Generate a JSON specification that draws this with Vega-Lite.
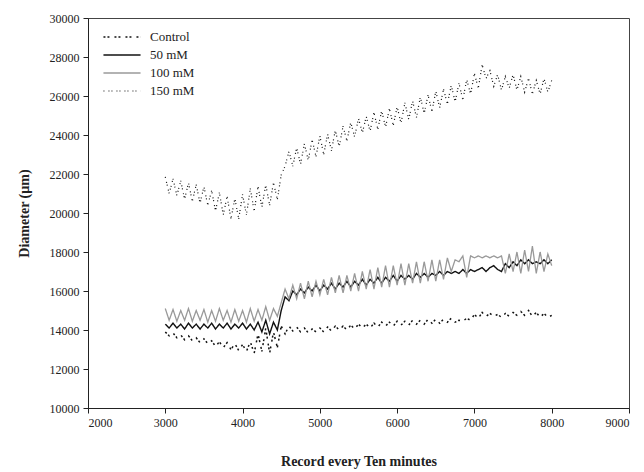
{
  "$schema": "https://vega.github.io/schema/vega-lite/v6.json",
  "autosize": "none",
  "width": 541,
  "height": 390,
  "padding": {"left": 88, "top": 18, "right": 15, "bottom": 64},
  "background": "white",
  "config": {
    "view": {"stroke": "#444", "strokeWidth": 1},
    "axis": {
      "grid": false,
      "labelFont": "Liberation Serif",
      "labelFontSize": 12,
      "labelColor": "#222",
      "titleFont": "Liberation Serif",
      "titleFontSize": 14,
      "titleFontWeight": "bold",
      "titleColor": "#222",
      "tickColor": "#222",
      "domainColor": "#222",
      "tickSize": 5
    },
    "legend": {
      "labelFont": "Liberation Serif",
      "labelFontSize": 13,
      "labelColor": "#222",
      "padding": 0
    }
  },
  "data": {
    "values": [
      {"x":3000,"Control":13900,"50 mM":14300,"100 mM":15100,"150 mM":21850},
      {"x":3050,"Control":13700,"50 mM":14100,"100 mM":14500,"150 mM":21000},
      {"x":3100,"Control":13850,"50 mM":14350,"100 mM":15050,"150 mM":21750},
      {"x":3150,"Control":13600,"50 mM":14100,"100 mM":14450,"150 mM":20900},
      {"x":3200,"Control":13750,"50 mM":14300,"100 mM":15000,"150 mM":21650},
      {"x":3250,"Control":13500,"50 mM":14050,"100 mM":14500,"150 mM":20700},
      {"x":3300,"Control":13700,"50 mM":14350,"100 mM":15100,"150 mM":21550},
      {"x":3350,"Control":13450,"50 mM":14100,"100 mM":14450,"150 mM":20600},
      {"x":3400,"Control":13600,"50 mM":14300,"100 mM":15000,"150 mM":21450},
      {"x":3450,"Control":13350,"50 mM":14050,"100 mM":14500,"150 mM":20500},
      {"x":3500,"Control":13550,"50 mM":14300,"100 mM":15050,"150 mM":21350},
      {"x":3550,"Control":13300,"50 mM":14100,"100 mM":14400,"150 mM":20400},
      {"x":3600,"Control":13450,"50 mM":14350,"100 mM":15000,"150 mM":21150},
      {"x":3650,"Control":13150,"50 mM":14050,"100 mM":14450,"150 mM":20100},
      {"x":3700,"Control":13400,"50 mM":14300,"100 mM":15100,"150 mM":21050},
      {"x":3750,"Control":13100,"50 mM":14100,"100 mM":14500,"150 mM":19900},
      {"x":3800,"Control":13350,"50 mM":14350,"100 mM":15000,"150 mM":20850},
      {"x":3850,"Control":13000,"50 mM":14050,"100 mM":14400,"150 mM":19700},
      {"x":3900,"Control":13300,"50 mM":14300,"100 mM":15050,"150 mM":20750},
      {"x":3950,"Control":12950,"50 mM":14100,"100 mM":14450,"150 mM":19700},
      {"x":4000,"Control":13250,"50 mM":14350,"100 mM":15000,"150 mM":20950},
      {"x":4050,"Control":12900,"50 mM":14050,"100 mM":14400,"150 mM":19900},
      {"x":4100,"Control":13400,"50 mM":14300,"100 mM":15100,"150 mM":21250},
      {"x":4150,"Control":12800,"50 mM":14000,"100 mM":14450,"150 mM":20100},
      {"x":4200,"Control":13800,"50 mM":14400,"100 mM":15050,"150 mM":21350},
      {"x":4250,"Control":12900,"50 mM":13900,"100 mM":14500,"150 mM":20300},
      {"x":4300,"Control":14100,"50 mM":14500,"100 mM":15200,"150 mM":21450},
      {"x":4350,"Control":12800,"50 mM":13800,"100 mM":14500,"150 mM":20400},
      {"x":4400,"Control":13900,"50 mM":14400,"100 mM":15100,"150 mM":21550},
      {"x":4450,"Control":13100,"50 mM":14000,"100 mM":14700,"150 mM":20700},
      {"x":4500,"Control":14200,"50 mM":15000,"100 mM":15400,"150 mM":21950},
      {"x":4550,"Control":13800,"50 mM":15700,"100 mM":16100,"150 mM":22400},
      {"x":4600,"Control":14200,"50 mM":15500,"100 mM":15600,"150 mM":23150},
      {"x":4650,"Control":13950,"50 mM":16000,"100 mM":16300,"150 mM":22400},
      {"x":4700,"Control":14150,"50 mM":15800,"100 mM":15600,"150 mM":23350},
      {"x":4750,"Control":13900,"50 mM":16100,"100 mM":16400,"150 mM":22500},
      {"x":4800,"Control":14100,"50 mM":15900,"100 mM":15600,"150 mM":23550},
      {"x":4850,"Control":13850,"50 mM":16200,"100 mM":16500,"150 mM":22700},
      {"x":4900,"Control":14050,"50 mM":16000,"100 mM":15700,"150 mM":23750},
      {"x":4950,"Control":13900,"50 mM":16300,"100 mM":16500,"150 mM":22900},
      {"x":5000,"Control":14100,"50 mM":16000,"100 mM":15800,"150 mM":23950},
      {"x":5050,"Control":13900,"50 mM":16300,"100 mM":16600,"150 mM":23000},
      {"x":5100,"Control":14150,"50 mM":16100,"100 mM":15800,"150 mM":24050},
      {"x":5150,"Control":13950,"50 mM":16400,"100 mM":16700,"150 mM":23200},
      {"x":5200,"Control":14200,"50 mM":16100,"100 mM":15900,"150 mM":24250},
      {"x":5250,"Control":14000,"50 mM":16400,"100 mM":16800,"150 mM":23400},
      {"x":5300,"Control":14200,"50 mM":16200,"100 mM":15900,"150 mM":24450},
      {"x":5350,"Control":14000,"50 mM":16500,"100 mM":16800,"150 mM":23700},
      {"x":5400,"Control":14250,"50 mM":16200,"100 mM":16000,"150 mM":24650},
      {"x":5450,"Control":14050,"50 mM":16500,"100 mM":16900,"150 mM":23900},
      {"x":5500,"Control":14300,"50 mM":16300,"100 mM":16000,"150 mM":24850},
      {"x":5550,"Control":14100,"50 mM":16600,"100 mM":17000,"150 mM":24100},
      {"x":5600,"Control":14300,"50 mM":16300,"100 mM":16100,"150 mM":24950},
      {"x":5650,"Control":14100,"50 mM":16600,"100 mM":17100,"150 mM":24200},
      {"x":5700,"Control":14350,"50 mM":16400,"100 mM":16100,"150 mM":25150},
      {"x":5750,"Control":14150,"50 mM":16700,"100 mM":17200,"150 mM":24300},
      {"x":5800,"Control":14400,"50 mM":16400,"100 mM":16200,"150 mM":25250},
      {"x":5850,"Control":14200,"50 mM":16700,"100 mM":17300,"150 mM":24400},
      {"x":5900,"Control":14400,"50 mM":16500,"100 mM":16200,"150 mM":25350},
      {"x":5950,"Control":14200,"50 mM":16800,"100 mM":17300,"150 mM":24500},
      {"x":6000,"Control":14450,"50 mM":16500,"100 mM":16300,"150 mM":25450},
      {"x":6050,"Control":14250,"50 mM":16800,"100 mM":17400,"150 mM":24600},
      {"x":6100,"Control":14450,"50 mM":16600,"100 mM":16300,"150 mM":25650},
      {"x":6150,"Control":14250,"50 mM":16800,"100 mM":17400,"150 mM":24800},
      {"x":6200,"Control":14500,"50 mM":16600,"100 mM":16400,"150 mM":25750},
      {"x":6250,"Control":14300,"50 mM":16900,"100 mM":17500,"150 mM":24900},
      {"x":6300,"Control":14500,"50 mM":16700,"100 mM":16400,"150 mM":25950},
      {"x":6350,"Control":14300,"50 mM":16900,"100 mM":17500,"150 mM":25100},
      {"x":6400,"Control":14550,"50 mM":16700,"100 mM":16500,"150 mM":26050},
      {"x":6450,"Control":14350,"50 mM":16900,"100 mM":17600,"150 mM":25200},
      {"x":6500,"Control":14550,"50 mM":16800,"100 mM":16500,"150 mM":26250},
      {"x":6550,"Control":14350,"50 mM":17000,"100 mM":17600,"150 mM":25400},
      {"x":6600,"Control":14550,"50 mM":16800,"100 mM":16600,"150 mM":26350},
      {"x":6650,"Control":14400,"50 mM":17000,"100 mM":17700,"150 mM":25600},
      {"x":6700,"Control":14600,"50 mM":16900,"100 mM":17000,"150 mM":26550},
      {"x":6750,"Control":14400,"50 mM":17000,"100 mM":17600,"150 mM":25700},
      {"x":6800,"Control":14500,"50 mM":16900,"100 mM":17500,"150 mM":26650},
      {"x":6850,"Control":14450,"50 mM":17100,"100 mM":17800,"150 mM":25800},
      {"x":6900,"Control":14600,"50 mM":16900,"100 mM":16700,"150 mM":26850},
      {"x":6950,"Control":14500,"50 mM":17100,"100 mM":17800,"150 mM":26100},
      {"x":7000,"Control":14800,"50 mM":17000,"100 mM":17700,"150 mM":27150},
      {"x":7050,"Control":14600,"50 mM":17100,"100 mM":17800,"150 mM":26400},
      {"x":7100,"Control":14900,"50 mM":17200,"100 mM":17700,"150 mM":27600},
      {"x":7150,"Control":14700,"50 mM":17000,"100 mM":17800,"150 mM":26900},
      {"x":7200,"Control":14850,"50 mM":17200,"100 mM":17700,"150 mM":27300},
      {"x":7250,"Control":14700,"50 mM":17300,"100 mM":17800,"150 mM":26500},
      {"x":7300,"Control":14800,"50 mM":17100,"100 mM":17700,"150 mM":27100},
      {"x":7350,"Control":14650,"50 mM":17000,"100 mM":17800,"150 mM":26300},
      {"x":7400,"Control":14850,"50 mM":17400,"100 mM":16900,"150 mM":27000},
      {"x":7450,"Control":14700,"50 mM":17200,"100 mM":17900,"150 mM":26400},
      {"x":7500,"Control":14900,"50 mM":17500,"100 mM":17000,"150 mM":27100},
      {"x":7550,"Control":14750,"50 mM":17300,"100 mM":18000,"150 mM":26300},
      {"x":7600,"Control":14950,"50 mM":17600,"100 mM":16900,"150 mM":27000},
      {"x":7650,"Control":14750,"50 mM":17400,"100 mM":18100,"150 mM":26200},
      {"x":7700,"Control":15000,"50 mM":17600,"100 mM":17000,"150 mM":26900},
      {"x":7750,"Control":14700,"50 mM":17400,"100 mM":18300,"150 mM":26100},
      {"x":7800,"Control":14900,"50 mM":17500,"100 mM":16900,"150 mM":26800},
      {"x":7850,"Control":14650,"50 mM":17400,"100 mM":18000,"150 mM":26100},
      {"x":7900,"Control":14850,"50 mM":17600,"100 mM":17000,"150 mM":26900},
      {"x":7950,"Control":14650,"50 mM":17400,"100 mM":17900,"150 mM":26200},
      {"x":8000,"Control":14750,"50 mM":17600,"100 mM":17300,"150 mM":26800}
    ]
  },
  "transform": [
    {"fold": ["Control", "50 mM", "100 mM", "150 mM"], "as": ["series", "y"]}
  ],
  "mark": {"type": "line", "clip": true},
  "encoding": {
    "x": {
      "field": "x", "type": "quantitative",
      "scale": {"domain": [2000, 9000], "nice": false},
      "axis": {"values": [2000,3000,4000,5000,6000,7000,8000,9000], "format": "d", "title": "Record every Ten minutes", "titlePadding": 26, "labelPadding": 4}
    },
    "y": {
      "field": "y", "type": "quantitative",
      "scale": {"domain": [10000, 30000], "nice": false},
      "axis": {"values": [10000,12000,14000,16000,18000,20000,22000,24000,26000,28000,30000], "format": "d", "title": "Diameter (µm)", "titlePadding": 18, "labelPadding": 4}
    },
    "color": {
      "field": "series", "type": "nominal",
      "scale": {"domain": ["Control", "50 mM", "100 mM", "150 mM"], "range": ["#111111", "#111111", "#999999", "#111111"]},
      "legend": {
        "title": null, "orient": "none", "legendX": 26, "legendY": 11,
        "symbolType": "M-2.65,0H2.65", "symbolSize": 196, "symbolStrokeWidth": 1.5,
        "rowPadding": 3, "labelOffset": 20
      }
    },
    "strokeDash": {
      "field": "series", "type": "nominal",
      "scale": {"domain": ["Control", "50 mM", "100 mM", "150 mM"], "range": [[2, 2, 2, 5], [1, 0], [1, 0], [1, 4, 1, 2]]},
      "legend": {
        "title": null, "orient": "none", "legendX": 26, "legendY": 11,
        "symbolType": "M-2.65,0H2.65", "symbolSize": 196, "symbolStrokeWidth": 1.5,
        "rowPadding": 3, "labelOffset": 20
      }
    },
    "strokeWidth": {
      "field": "series", "type": "nominal",
      "scale": {"domain": ["Control", "50 mM", "100 mM", "150 mM"], "range": [1.5, 1.2, 1.5, 1.5]},
      "legend": null
    }
  }
}
